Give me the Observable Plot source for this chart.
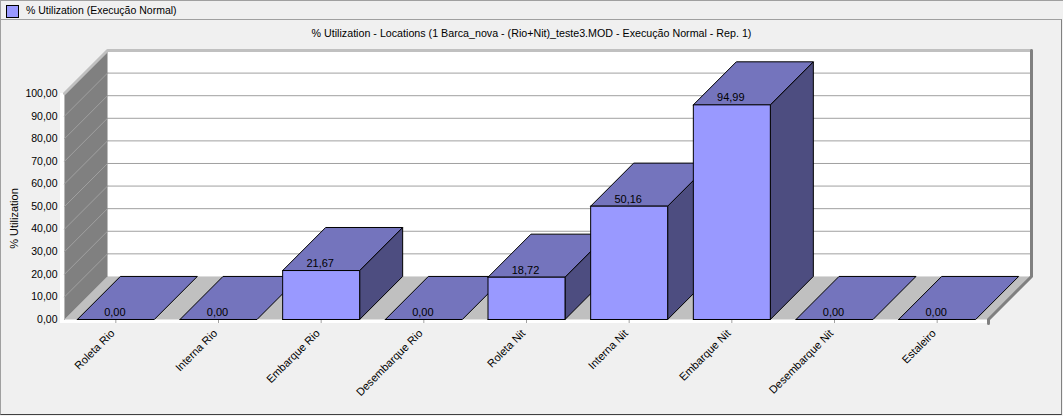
<!DOCTYPE html>
<html><head><meta charset="utf-8">
<script src="https://cdn.jsdelivr.net/npm/d3@7"></script>
<script src="https://cdn.jsdelivr.net/npm/@observablehq/plot@0.6"></script>
<style>
html,body{margin:0;padding:0;background:#fff}
#chart{position:relative;width:1063px;height:416px;box-sizing:border-box;background:#f0f0f0;overflow:hidden;font-family:"Liberation Sans",Arial,sans-serif;font-size:10.7px;color:#000}
#legend{height:19px;box-sizing:border-box;border-top:1px solid #a0a0a0;border-left:1px solid #a0a0a0;display:flex;align-items:center;padding-left:5px;font-size:10.5px}
#legend i{display:block;width:11px;height:11px;background:#9999ff;border:1px solid #000;margin-right:7px;position:relative;top:1px}
#panel{position:absolute;left:0;top:19px;width:1062px;height:396px;box-sizing:border-box;border:1px solid #a0a0a0;border-right-color:#808080;border-bottom-color:#404040}
#title{position:absolute;left:0;top:26px;width:1063px;text-align:center;line-height:14px}
#plot{position:absolute;left:0;top:40px}
#plot svg{display:block;background:transparent}
</style></head><body>
<div id="chart">
  <div id="legend"><i></i><span>% Utilization (Execução Normal)</span></div>
  <div id="panel"></div>
  <div id="title">% Utilization - Locations (1 Barca_nova - (Rio+Nit)_teste3.MOD - Execução Normal - Rep. 1)</div>
  <div id="plot"></div>
</div>
<script>
const categories = ["Roleta Rio","Interna Rio","Embarque Rio","Desembarque Rio","Roleta Nit","Interna Nit","Embarque Nit","Desembarque Nit","Estaleiro"];
const values = [0, 0, 21.67, 0, 18.72, 50.16, 94.99, 0, 0];
const yTicks = [0,10,20,30,40,50,60,70,80,90,100];
const yTitle = "% Utilization";

const slotPx = 102.67, unitPx = 2.257, depthPx = 43;
const dx = depthPx / slotPx, dy = depthPx / unitPx;
const pad = 0.125;
const fmt = v => v.toFixed(2).replace(".", ",");

const poly = (id, pts) => pts.map(([x, y]) => ({id, x, y}));
const xMax = categories.length;
const bg = (data, fill) => Plot.line(data, {x:"x", y:"y", z:"id", fill, stroke:"none"});
const face = (d, fill) => Plot.line(d, {x:"x", y:"y", z:"id", fill, stroke:"#000", strokeWidth:1, strokeLinejoin:"miter"});

// bars are painted left to right, as each one hides part of its left neighbour
const bars = values.flatMap((v, i) => {
  const a = i + pad, b = i + 1 - pad;
  const top = face(poly("t"+i, [[a,v],[b,v],[b+dx,v+dy],[a+dx,v+dy],[a,v]]), "#7474bd");
  if (v === 0) return [top];
  return [
    face(poly("s"+i, [[b,0],[b+dx,dy],[b+dx,v+dy],[b,v],[b,0]]), "#4d4d80"),
    top,
    face(poly("f"+i, [[a,0],[b,0],[b,v],[a,v],[a,0]]), "#9999ff")
  ];
});

const plot = Plot.plot({
  width: 1063, height: 376,
  marginLeft: 60, marginRight: 29, marginTop: 10, marginBottom: 93,
  style: {background:"transparent", fontFamily:"'Liberation Sans',Arial,sans-serif", fontSize:"11px", color:"#000"},
  x: {type:"linear", domain:[-4/slotPx, xMax + 46/slotPx], axis:null},
  y: {type:"linear", domain:[-4/unitPx, 100 + dy], axis:null},
  marks: [
    // white backing: back wall plus strips beside and under the plot
    bg(poly("w",[[dx,100+dy],[xMax+dx,100+dy],[xMax+dx,dy],[dx,dy],[dx,100+dy]]), "#fff"),
    Plot.areaY([{x:-4/slotPx},{x:0}], {x:"x", y1:-4/unitPx, y2:100, fill:"#fff"}),
    Plot.areaY([{x:-4/slotPx},{x:xMax}], {x:"x", y1:-4/unitPx, y2:0, fill:"#fff"}),
    // back-wall gridlines
    Plot.ruleY(yTicks.filter(t => t > 0), {y:t => t + dy, x1:dx, x2:xMax+dx, stroke:"#a0a0a0", strokeWidth:1}),
    // left wall
    bg(poly("l",[[0,0],[dx,dy],[dx,100+dy],[0,100],[0,0]]), "#808080"),
    Plot.line(yTicks.flatMap(t => poly("g"+t,[[0,t],[dx,t+dy]])), {x:"x", y:"y", z:"id", stroke:"#a0a0a0", strokeWidth:1}),
    // floor
    bg(poly("fl",[[0,0],[xMax,0],[xMax+dx,dy],[dx,dy],[0,0]]), "#c0c0c0"),
    // wall edges
    Plot.line(poly("e",[[0,100],[dx,100+dy],[xMax+dx,100+dy]]), {x:"x", y:"y", stroke:"#c0c0c0", strokeWidth:3}),
    Plot.line(poly("r",[[xMax+dx,100+dy],[xMax+dx,dy],[xMax,0],[xMax,-4/unitPx]]), {x:"x", y:"y", stroke:"#808080", strokeWidth:3}),
    // category ticks
    Plot.ruleX(categories.map((c,i)=>i+0.5), {x:d=>d, y1:-0.4, y2:-4/unitPx, stroke:"#a0a0a0"}),
    ...bars,
    // value labels
    Plot.text(values, {x:(v,i)=>i+0.5, y:v=>v, text:fmt, dy:-7, dx:-1, fill:"#000", fontSize:11}),
    // axes
    Plot.axisY(yTicks, {tickSize:0, tickPadding:3, tickFormat:fmt, label:null, fontSize:10.5}),
    Plot.text(categories, {x:(c,i)=>i+0.5, y:-4/unitPx, text:c=>c, rotate:-45, textAnchor:"end", dx:-3, dy:8, fontSize:11, fill:"#000", lineAnchor:"middle"}),
    Plot.text([yTitle], {frameAnchor:"left", y:[44.7], text:d=>d, rotate:-90, textAnchor:"middle", dx:-46, fontSize:11, fill:"#000"})
  ]
});
document.getElementById("plot").append(plot);
</script>
</body></html>
